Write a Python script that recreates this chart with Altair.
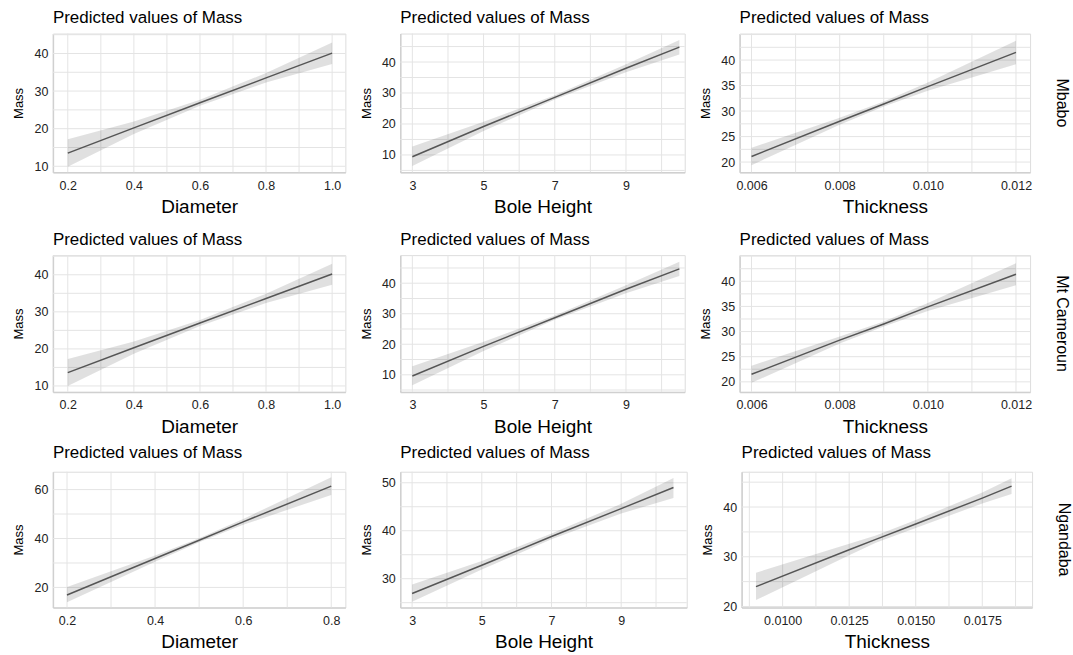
import altair as alt
import pandas as pd

TITLE = "Predicted values of Mass"
YTITLE = "Mass"
ROWS = ["Mbabo", "Mt Cameroun", "Ngandaba"]
XTITLES = ["Diameter", "Bole Height", "Thickness"]

# ---- Mbabo ----
mb_d_x = [0.2, 0.4, 0.6, 0.8, 1.0]
mb_d_fit = [13.5, 20.2, 26.9, 33.5, 40.1]
mb_d_lo = [9.9, 18.6, 26.1, 32.3, 37.2]
mb_d_hi = [17.2, 21.9, 27.7, 34.8, 42.9]

mb_b_x = [3, 5, 7, 9, 10.5]
mb_b_fit = [9.4, 19.2, 28.6, 38.0, 44.8]
mb_b_lo = [6.4, 17.7, 27.9, 36.7, 42.4]
mb_b_hi = [12.7, 20.7, 29.3, 39.3, 47.1]

mb_t_x = [0.006, 0.008, 0.009, 0.010, 0.012]
mb_t_fit = [21.1, 28.0, 31.4, 34.8, 41.5]
mb_t_lo = [19.4, 27.3, 30.9, 34.0, 39.2]
mb_t_hi = [22.8, 28.7, 31.9, 35.6, 43.8]

# ---- Mt Cameroun ----
mc_d_x = [0.2, 0.4, 0.6, 0.8, 1.0]
mc_d_fit = [13.6, 20.3, 27.0, 33.6, 40.2]
mc_d_lo = [10.0, 18.7, 26.2, 32.4, 37.3]
mc_d_hi = [17.3, 22.0, 27.8, 34.9, 43.0]

mc_b_x = [3, 5, 7, 9, 10.5]
mc_b_fit = [9.6, 19.3, 28.7, 38.0, 44.7]
mc_b_lo = [6.6, 17.8, 28.0, 36.7, 42.4]
mc_b_hi = [12.8, 20.8, 29.4, 39.3, 47.0]

mc_t_x = [0.006, 0.008, 0.009, 0.010, 0.012]
mc_t_fit = [21.5, 28.3, 31.5, 34.9, 41.4]
mc_t_lo = [19.8, 27.6, 31.0, 34.1, 39.2]
mc_t_hi = [23.2, 29.0, 32.0, 35.7, 43.6]

# ---- Ngandaba ----
ng_d_x = [0.2, 0.4, 0.5, 0.6, 0.8]
ng_d_fit = [16.9, 31.8, 39.3, 46.8, 61.4]
ng_d_lo = [13.9, 30.5, 38.5, 45.6, 57.8]
ng_d_hi = [20.2, 33.1, 40.1, 48.0, 65.0]

ng_b_x = [3, 5, 7, 9, 10.5]
ng_b_fit = [26.9, 32.8, 38.8, 44.6, 49.0]
ng_b_lo = [25.2, 31.9, 38.2, 43.6, 46.8]
ng_b_hi = [28.8, 33.7, 39.4, 45.6, 51.0]

ng_t_x = [0.009, 0.0125, 0.0135, 0.015, 0.0175, 0.0186]
ng_t_fit = [24.0, 31.4, 33.5, 36.6, 41.8, 44.2]
ng_t_lo = [21.3, 30.3, 32.8, 35.8, 40.7, 42.6]
ng_t_hi = [26.8, 32.6, 34.3, 37.4, 42.9, 45.8]

# gridlines (major + minor) and labelled ticks
d_grid = [0.2, 0.3, 0.4, 0.5, 0.6, 0.7, 0.8, 0.9, 1.0]
d_ticks = [0.2, 0.4, 0.6, 0.8, 1.0]
d3_grid = [0.2, 0.3, 0.4, 0.5, 0.6, 0.7, 0.8]
d3_ticks = [0.2, 0.4, 0.6, 0.8]
b_grid = [3, 4, 5, 6, 7, 8, 9, 10]
b_ticks = [3, 5, 7, 9]
t_grid = [0.006, 0.007, 0.008, 0.009, 0.010, 0.011, 0.012]
t_ticks = [0.006, 0.008, 0.010, 0.012]
t3_grid = [0.00875, 0.01, 0.01125, 0.0125, 0.01375, 0.015, 0.01625, 0.0175, 0.01875]
t3_ticks = [0.01, 0.0125, 0.015, 0.0175]

y_a_grid = [10, 15, 20, 25, 30, 35, 40, 45]
y_a_ticks = [10, 20, 30, 40]
y_b_grid = [5, 10, 15, 20, 25, 30, 35, 40, 45]
y_t_grid = [20, 22.5, 25, 27.5, 30, 32.5, 35, 37.5, 40, 42.5, 45]
y_t_ticks = [20, 25, 30, 35, 40]
y_n1_grid = [20, 30, 40, 50, 60]
y_n1_ticks = [20, 40, 60]
y_n2_grid = [25, 30, 35, 40, 45, 50]
y_n2_ticks = [30, 40, 50]
y_n3_grid = [20, 25, 30, 35, 40, 45]
y_n3_ticks = [20, 30, 40]

FONT = "Liberation Sans"
GRID = "#e4e4e4"
AXISC = "#d0d0d0"


def panel(x, fit, lo, hi, xtitle, xdom, xgrid, xticks, xfmt,
          ydom, ygrid, yticks, w, h, row_label=None, title_offset=6):
    df = pd.DataFrame({"x": x, "fit": fit, "lo": lo, "hi": hi})
    xs = alt.Scale(domain=xdom, nice=False, zero=False)
    ys = alt.Scale(domain=ydom, nice=False, zero=False)
    xax = alt.Axis(values=xticks, tickCount=100, format=xfmt, title=xtitle,
                   grid=False, ticks=False, tickSize=0,
                   domain=True, domainColor=AXISC, domainWidth=1.5,
                   labelFontSize=12.5, labelColor="#222222", labelPadding=7,
                   labelFont=FONT, titleFont=FONT, titleFontSize=19,
                   titleFontWeight="normal", titleColor="black", titlePadding=6,
                   labelOverlap=False)
    yax = alt.Axis(values=yticks, tickCount=100, format=".0f", title=YTITLE,
                   grid=False, ticks=False, tickSize=0,
                   domain=True, domainColor=AXISC, domainWidth=1.5,
                   labelFontSize=12.5, labelColor="#222222", labelPadding=5,
                   labelFont=FONT, titleFont=FONT, titleFontSize=13,
                   titleFontWeight="normal", titleColor="black", titlePadding=7,
                   minExtent=20, maxExtent=20, labelOverlap=False)
    vgrid = alt.Chart(pd.DataFrame({"gx": xgrid})).mark_rule(
        color=GRID, strokeWidth=1).encode(x=alt.X("gx:Q", scale=xs, axis=xax))
    hgrid = alt.Chart(pd.DataFrame({"gy": ygrid})).mark_rule(
        color=GRID, strokeWidth=1).encode(y=alt.Y("gy:Q", scale=ys, axis=yax))
    base = alt.Chart(df)
    band = base.mark_area(color="black", opacity=0.12).encode(
        x=alt.X("x:Q", scale=xs, axis=xax),
        y=alt.Y("lo:Q", scale=ys, axis=yax),
        y2="hi:Q",
    )
    line = base.mark_line(color="#555555", strokeWidth=1.5).encode(
        x=alt.X("x:Q", scale=xs, axis=xax),
        y=alt.Y("fit:Q", scale=ys, axis=yax),
    )
    layers = [vgrid, hgrid, band, line]
    if row_label is not None:
        lab = alt.Chart(pd.DataFrame({"label": [row_label]})).mark_text(
            angle=90, fontSize=16, font=FONT, color="black", align="center", baseline="middle"
        ).encode(text="label:N", x=alt.value(w + 32), y=alt.value(h / 2))
        layers.append(lab)
    return alt.layer(*layers).properties(
        width=w, height=h,
        title=alt.TitleParams(TITLE, anchor="start", frame="group", fontSize=17,
                              fontWeight="normal", font=FONT, color="black",
                              offset=title_offset),
    )


row1 = alt.hconcat(
    panel(mb_d_x, mb_d_fit, mb_d_lo, mb_d_hi, XTITLES[0], [0.155, 1.04], d_grid, d_ticks, ".1f",
          [8.4, 45.3], y_a_grid, y_a_ticks, 293, 139),
    panel(mb_b_x, mb_b_fit, mb_b_lo, mb_b_hi, XTITLES[1], [2.66, 10.65], b_grid, b_ticks, "d",
          [4.4, 49.2], y_b_grid, y_a_ticks, 285, 139),
    panel(mb_t_x, mb_t_fit, mb_t_lo, mb_t_hi, XTITLES[2], [0.00573, 0.01232], t_grid, t_ticks, ".3f",
          [18.0, 45.2], y_t_grid, y_t_ticks, 291, 139, ROWS[0]),
    spacing=13,
)
row2 = alt.hconcat(
    panel(mc_d_x, mc_d_fit, mc_d_lo, mc_d_hi, XTITLES[0], [0.155, 1.04], d_grid, d_ticks, ".1f",
          [8.4, 45.3], y_a_grid, y_a_ticks, 293, 137),
    panel(mc_b_x, mc_b_fit, mc_b_lo, mc_b_hi, XTITLES[1], [2.66, 10.65], b_grid, b_ticks, "d",
          [4.4, 49.2], y_b_grid, y_a_ticks, 285, 137),
    panel(mc_t_x, mc_t_fit, mc_t_lo, mc_t_hi, XTITLES[2], [0.00573, 0.01232], t_grid, t_ticks, ".3f",
          [18.0, 45.2], y_t_grid, y_t_ticks, 291, 137, ROWS[1]),
    spacing=13,
)
row3 = alt.hconcat(
    panel(ng_d_x, ng_d_fit, ng_d_lo, ng_d_hi, XTITLES[0], [0.168, 0.832], d3_grid, d3_ticks, ".1f",
          [11.8, 67.3], y_n1_grid, y_n1_ticks, 293, 136, title_offset=9),
    panel(ng_b_x, ng_b_fit, ng_b_lo, ng_b_hi, XTITLES[1], [2.66, 10.88], b_grid, b_ticks, "d",
          [24.0, 52.3], y_n2_grid, y_n2_ticks, 287, 136, title_offset=9),
    panel(ng_t_x, ng_t_fit, ng_t_lo, ng_t_hi, XTITLES[2], [0.00846, 0.01937], t3_grid, t3_ticks, ".4f",
          [19.8, 47.1], y_n3_grid, y_n3_ticks, 291, 136, ROWS[2], title_offset=9),
    spacing=13,
)

top_rows = alt.vconcat(row1, row2, spacing=13)
chart = alt.vconcat(top_rows, row3, spacing=7).properties(
    padding={"left": 12, "top": 8, "right": 0, "bottom": 1}
).configure_view(stroke=None).configure(font=FONT, background="white")

chart.save("out.html", embed_options={"renderer": "svg", "actions": False})
